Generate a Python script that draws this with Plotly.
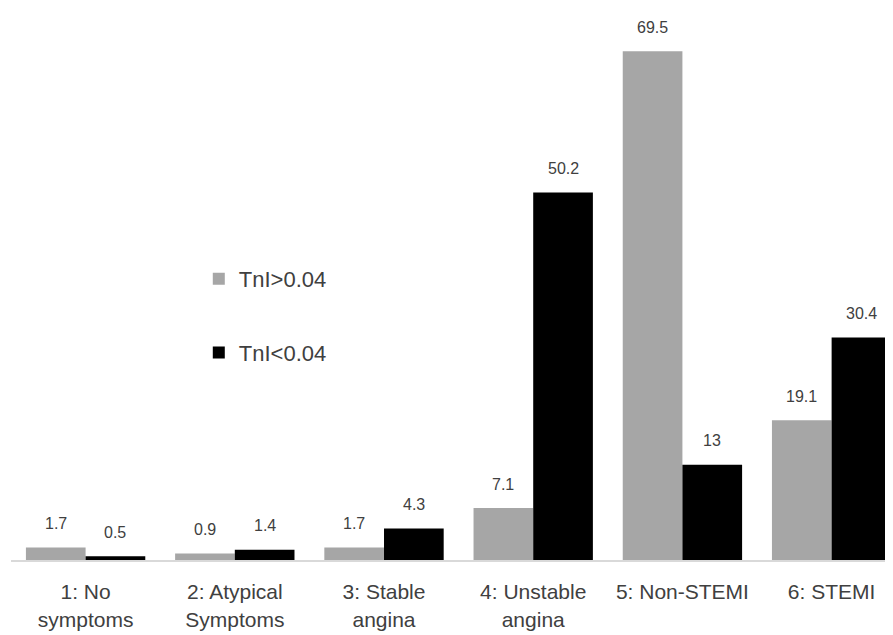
import plotly.graph_objects as go

categories = ["1: No<br>symptoms", "2: Atypical<br>Symptoms", "3: Stable<br>angina",
              "4: Unstable<br>angina", "5: Non-STEMI", "6: STEMI"]
tni_high = [1.7, 0.9, 1.7, 7.1, 69.5, 19.1]
tni_low = [0.5, 1.4, 4.3, 50.2, 13, 30.4]
high_labels = ["1.7", "0.9", "1.7", "7.1", "69.5", "19.1"]
low_labels = ["0.5", "1.4", "4.3", "50.2", "13", "30.4"]

FONT = "Liberation Sans, Arial, sans-serif"

fig = go.Figure()
fig.add_trace(go.Bar(x=categories, y=tni_high, name="TnI>0.04",
                     marker=dict(color="#A6A6A6", line=dict(width=0)),
                     legendgroup="a"))
fig.add_trace(go.Bar(x=categories, y=tni_low, name="TnI<0.04",
                     marker=dict(color="#000000", line=dict(width=0)),
                     legendgroup="b"))

annotations = []
for i, (v, t) in enumerate(zip(tni_high, high_labels)):
    annotations.append(dict(x=i - 0.2, y=v, xref="x", yref="y", text=t,
                            showarrow=False, yanchor="middle", yshift=24,
                            font=dict(family=FONT, size=16, color="#404040")))
for i, (v, t) in enumerate(zip(tni_low, low_labels)):
    annotations.append(dict(x=i + 0.2, y=v, xref="x", yref="y", text=t,
                            showarrow=False, yanchor="middle", yshift=24,
                            font=dict(family=FONT, size=16, color="#404040")))

fig.update_layout(
    width=893, height=635,
    margin=dict(l=3, r=0, t=0, b=83),
    paper_bgcolor="white", plot_bgcolor="white",
    barmode="group", bargap=0.2, bargroupgap=0,
    font=dict(family=FONT, color="#404040"),
    showlegend=True,
    legend=dict(x=0.211, y=0.442, xanchor="left", yanchor="middle",
                font=dict(family=FONT, size=22, color="#404040"),
                tracegroupgap=42, traceorder="grouped",
                bgcolor="rgba(0,0,0,0)", itemwidth=30),
    annotations=annotations,
    xaxis=dict(range=[-0.5, 5.465], showline=True, linecolor="#D9D9D9", linewidth=2,
               showgrid=False, zeroline=False, ticks="",
               tickfont=dict(family=FONT, size=21, color="#404040"),
               ticklabelstandoff=12),
    yaxis=dict(range=[0, 75.4], visible=False, showgrid=False, zeroline=False),
)

fig.write_html("out.html")
